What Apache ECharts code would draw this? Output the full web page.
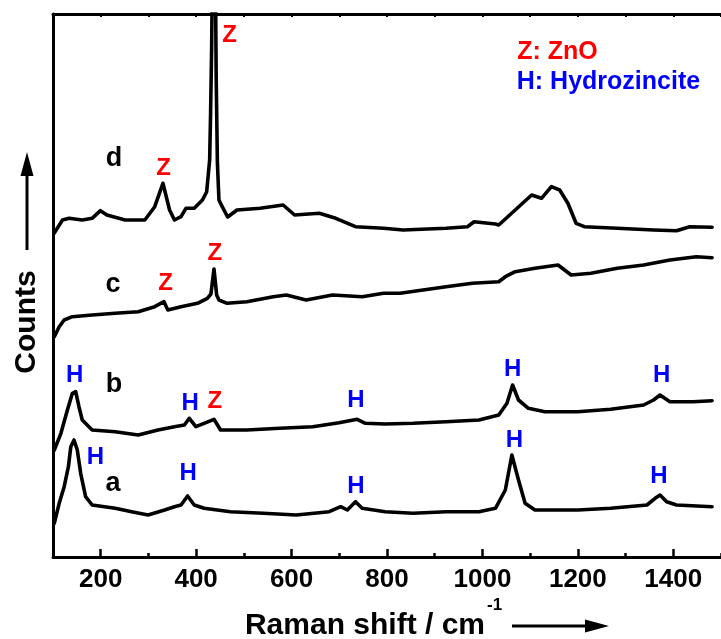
<!DOCTYPE html>
<html>
<head>
<meta charset="utf-8">
<script src="https://cdn.jsdelivr.net/npm/echarts@6/dist/echarts.min.js"></script>
<style>html,body{margin:0;padding:0;background:#fff}#c{width:721px;height:639px}</style>
</head>
<body>
<div id="c"></div>
<script>
// ---- data (Raman shift in cm-1, counts in arbitrary offset units) ----
const dShift = [102.7,119.9,133.7,161.3,182.0,199.4,213.0,251.1,292.5,313.2,330.4,344.3,354.6,368.3,378.6,396.0,413.2,422.1,428.3,430.3,432.5,434.6,437.0,440.0,442.0,444.5,447.8,451.1,466.0,485.6,533.9,582.3,606.3,658.1,692.6,734.0,792.6,834.0,923.8,968.6,982.5,1027.3,1034.2,1068.7,1103.1,1123.8,1144.5,1161.9,1179.1,1196.3,1213.7,1282.6,1358.6,1406.8,1434.3,1481.3];
const dCounts = [324,337,338.7,337,338.7,346.3,342,337,337,350.3,373.7,347,337,340.3,348.7,348.7,357,365.3,397,444,510,610,660,610,480,395,357,353.7,340,347,348.7,352,342,343.7,338.7,330.3,328.7,327,328.7,330.3,335.3,333,332,347,362,358.7,370.3,367,353.7,333.7,330.3,328.7,327,326.3,330.3,329.7];

const cShift = [102.7,113.0,123.4,140.6,182.0,230.4,278.6,313.2,332.5,340.7,368.3,402.8,423.5,431.0,437.4,443.0,447.8,465.0,506.3,561.6,589.1,630.5,685.8,747.9,792.6,827.2,875.4,923.8,978.9,1034.2,1048.0,1068.7,1110.1,1158.4,1185.9,1227.3,1282.6,1337.9,1393.0,1448.2,1481.3];
const cCounts = [220.3,230.3,237,240.3,242,243.7,245.3,250.3,255.3,247,250.3,253.7,258.7,263,288,262,257,253.7,255.3,260.3,262,257,262,260.3,263.7,263.7,267,270.3,273.7,275.3,280.3,285.3,288.7,292,282,283.7,288.7,292,297,300.3,299.3];

const bShift = [102.7,116.6,130.2,140.6,147.6,154.4,161.3,182.0,230.4,278.6,320.0,354.6,375.3,385.7,399.3,416.7,437.4,451.1,506.3,575.3,644.4,699.5,737.5,754.7,796.1,854.7,923.8,992.8,1034.2,1051.4,1063.2,1075.6,1096.3,1130.9,1199.8,1268.7,1337.9,1358.6,1372.2,1392.9,1441.4,1481.3];
const bCounts = [107,123.7,147,163.7,165.3,150.3,137,127,125.3,122,127,130.3,132,138.7,130.3,133.7,137.7,127,127,128.7,130.3,134.3,137.7,133.7,133,133.7,135.3,137,142,153.7,172,157,148.7,145.3,145.3,147.7,152,157,162,155.3,155.3,156.3];

const aShift = [102.7,113.0,123.4,132.3,137.3,144.1,150.9,158.0,168.3,182.0,230.4,264.8,299.3,333.9,354.6,368.3,382.1,396.0,416.7,471.8,540.9,609.8,678.8,703.0,716.9,734.0,747.9,796.1,854.7,923.8,992.8,1027.3,1048.0,1061.7,1075.6,1089.4,1110.1,1199.8,1268.7,1344.7,1361.9,1372.2,1386.1,1406.8,1481.3];
const aCounts = [33.7,53.7,70.3,90.3,110.3,117,107,83.7,60.3,52,48.7,45.3,42,47,50.3,52,61,52,48.7,45.3,43.7,42,45.3,50.3,47,55.3,48.7,45.3,43.7,45.3,45.3,48.7,67,102,77,53.7,47,47,48.7,52,58.7,62,55.3,52,50.3];

const xTickLabels = [200,400,600,800,1000,1200,1400];
const xMinorTicks = [300,500,700,900,1100,1300,1500];

// annotations: text, shift, counts, kind
const annText  = ['Z','Z: ZnO','H: Hydrozincite','d','Z','c','Z','Z','H','b','H','Z','H','H','H','H','a','H','H','H','H'];
const annShift = [470,1073,1072,228,331.6,226,335.7,439,145.5,228,387.4,439,734.8,1063.6,1375.9,188.9,226,383.3,734.8,1067,1369.7];
const annCounts= [522,505,475,398,389,272,274,304,182,172,154,156,156.3,188,182,100,73,84,70.3,117,81];
const annKind  = ['Z','ZL','HL','L','Z','L','Z','Z','H','L','H','Z','H','H','H','H','L','H','H','H','H'];

const FONT = '"Liberation Sans", Arial, sans-serif';
const kindStyle = {
  Z:  {color:'#ff0000', fontSize:24, align:'center'},
  H:  {color:'#0000ff', fontSize:24, align:'center'},
  ZL: {color:'#ff0000', fontSize:25, align:'left'},
  HL: {color:'#0000ff', fontSize:25, align:'left'},
  L:  {color:'#000000', fontSize:27, align:'center'}
};

function pairs(xs, ys){ return xs.map((x,i)=>[x, ys[i]]); }

const chart = echarts.init(document.getElementById('c'), null, {renderer:'canvas', width:721, height:639});

const lineSeries = [[aShift,aCounts],[bShift,bCounts],[cShift,cCounts],[dShift,dCounts]].map(p => ({
  type:'line', xAxisIndex:0, yAxisIndex:0, data: pairs(p[0], p[1]),
  showSymbol:false, symbol:'none', clip:true, smooth:false,
  lineStyle:{color:'#000', width:3.6, join:'round', cap:'round'}, itemStyle:{color:'#000'}, silent:true
}));

const annData = annText.map((t,i)=>{
  const s = kindStyle[annKind[i]];
  return {
    name:t, value:[annShift[i], annCounts[i]],
    label:{show:true, position:'inside', formatter:'{b}', color:s.color, opacity:1, fontSize:s.fontSize,
           fontWeight:'bold', fontFamily:FONT, align:s.align, verticalAlign:'middle',
           textBorderWidth:0, textShadowBlur:0}
  };
});

chart.setOption({
  animation:false,
  backgroundColor:'#fff',
  grid:{left:53, right:-9, top:14, bottom:82, containLabel:false},
  xAxis:[
    {type:'value', position:'bottom', min:100, max:1500,
     axisLine:{show:true, onZero:false, lineStyle:{color:'#000', width:3}},
     axisTick:{show:true, inside:true, length:8, lineStyle:{color:'#000', width:2.5}, customValues:xTickLabels},
     axisLabel:{show:true, customValues:xTickLabels, formatter:(v)=>String(v), color:'#000', fontSize:26, fontWeight:'bold', fontFamily:FONT, margin:10},
     splitLine:{show:false}},
    {type:'value', position:'bottom', min:100, max:1500,
     axisLine:{show:false, onZero:false},
     axisTick:{show:true, inside:true, length:4, lineStyle:{color:'#000', width:2.5}, customValues:xMinorTicks},
     axisLabel:{show:false}, splitLine:{show:false}},
    {type:'value', position:'top', min:100, max:1500, interval:100,
     axisLine:{show:true, onZero:false, lineStyle:{color:'#000', width:3}},
     axisTick:{show:true, inside:true, length:3, lineStyle:{color:'#000', width:2}},
     axisLabel:{show:false}, splitLine:{show:false}}
  ],
  yAxis:[
    {type:'value', min:0, max:543, position:'left',
     axisLine:{show:true, onZero:false, lineStyle:{color:'#000', width:3}},
     axisTick:{show:false}, axisLabel:{show:false}, splitLine:{show:false}}
  ],
  series: lineSeries.concat([{
    type:'scatter', xAxisIndex:0, yAxisIndex:0, symbolSize:1,
    itemStyle:{color:'transparent', opacity:1},
    data:annData, silent:true, clip:false, z:5
  }]),
  graphic:[
    {type:'text', x:27, y:322, rotation:Math.PI/2,
     style:{text:'Counts', fontSize:30, fontWeight:'bold', fontFamily:FONT, fill:'#000', align:'center', verticalAlign:'middle'}},
    {type:'line', shape:{x1:27,y1:250,x2:27,y2:172}, style:{stroke:'#000', lineWidth:3}},
    {type:'polygon', shape:{points:[[27,152],[20.5,176],[33.5,176]]}, style:{fill:'#000'}},
    {type:'text', x:485, y:626,
     style:{text:'Raman shift / cm', fontSize:30, fontWeight:'bold', fontFamily:FONT, fill:'#000', align:'right', verticalAlign:'middle'}},
    {type:'text', x:487, y:605,
     style:{text:'-1', fontSize:17, fontWeight:'bold', fontFamily:FONT, fill:'#000', align:'left', verticalAlign:'middle'}},
    {type:'line', shape:{x1:512,y1:626,x2:590,y2:626}, style:{stroke:'#000', lineWidth:3}},
    {type:'polygon', shape:{points:[[609,626],[585,619.5],[585,632.5]]}, style:{fill:'#000'}}
  ]
});
</script>
</body>
</html>
